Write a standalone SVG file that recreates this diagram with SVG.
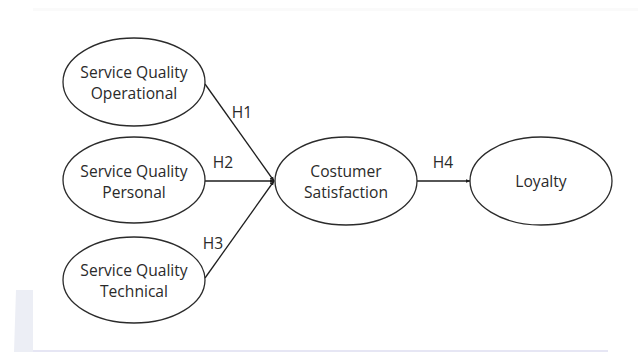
<svg xmlns="http://www.w3.org/2000/svg" width="638" height="352" viewBox="0 0 638 352">
  <style>
    .node ellipse { fill: #ffffff; stroke: #2b2b2b; stroke-width: 1.3; }
    .node text, .label { font-family: "Open Sans", "Liberation Sans", sans-serif; font-size: 15.6px; fill: #2a2a2a; text-anchor: middle; }
    .edge { stroke: #1e1e1e; stroke-width: 1.3; fill: none; }
  </style>
  <defs>
    <marker id="arrow" viewBox="0 0 10 10" refX="9" refY="5" markerWidth="5" markerHeight="5" orient="auto" markerUnits="userSpaceOnUse">
      <path d="M0,1 L10,5 L0,9 z" fill="#1e1e1e"/>
    </marker>
  </defs>

  <!-- background -->
  <rect x="0" y="0" width="638" height="352" fill="#ffffff"/>
  <rect x="33" y="8" width="605" height="3" fill="#fafafa"/>
  <path d="M16,290 L33,290 L33,352 L14,352 Z" fill="#eceef5"/>
  <rect x="33" y="350" width="575" height="2" fill="#e6e6f4"/>

  <!-- connectors -->
  <g id="connectors">
    <line class="edge" x1="205" y1="84" x2="274" y2="181" marker-end="url(#arrow)"/>
    <line class="edge" x1="205" y1="181" x2="274" y2="181" marker-end="url(#arrow)"/>
    <line class="edge" x1="205" y1="278" x2="274" y2="181" marker-end="url(#arrow)"/>
    <line class="edge" x1="417" y1="181" x2="470" y2="181" marker-end="url(#arrow)"/>
    <text class="label" x="242" y="118">H1</text>
    <text class="label" x="223" y="168">H2</text>
    <text class="label" x="213" y="249">H3</text>
    <text class="label" x="443" y="168">H4</text>
  </g>

  <g id="sq-operational" class="node">
    <ellipse cx="134" cy="82" rx="71" ry="44"/>
    <text x="134" y="78">Service Quality</text>
    <text x="134" y="99">Operational</text>
  </g>
  <g id="sq-personal" class="node">
    <ellipse cx="134" cy="180" rx="71" ry="43"/>
    <text x="134" y="177">Service Quality</text>
    <text x="134" y="198">Personal</text>
  </g>
  <g id="sq-technical" class="node">
    <ellipse cx="134" cy="280" rx="71" ry="43"/>
    <text x="134" y="276">Service Quality</text>
    <text x="134" y="297">Technical</text>
  </g>
  <g id="satisfaction" class="node">
    <ellipse cx="346" cy="181" rx="71" ry="44"/>
    <text x="346" y="177">Costumer</text>
    <text x="346" y="198">Satisfaction</text>
  </g>
  <g id="loyalty" class="node">
    <ellipse cx="541" cy="181" rx="71" ry="44"/>
    <text x="541" y="187">Loyalty</text>
  </g>
</svg>
